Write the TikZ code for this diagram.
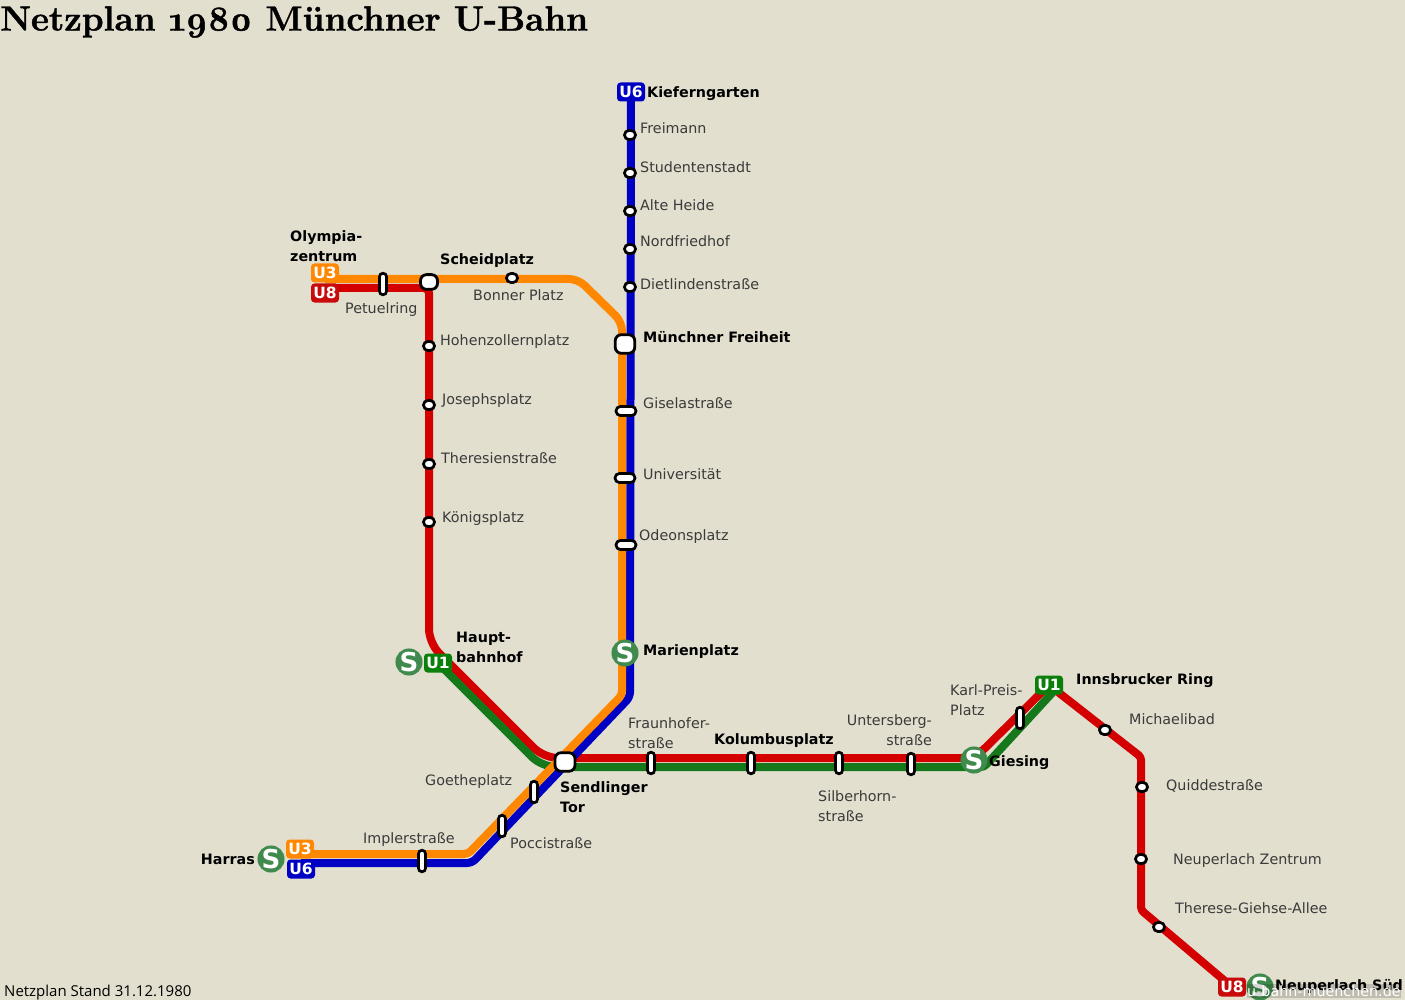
\documentclass[tikz,border=0pt]{standalone}
\usepackage{fontspec}
\setmainfont{DejaVu Sans}
\newfontfamily\titlefont[Numbers=OldStyle,BoldFeatures={FakeBold=1.2}]{Latin Modern Roman}
\newfontfamily\standfont{Open Sans}
\definecolor{bgc}{HTML}{E2DFCF}
\definecolor{lred}{HTML}{D40000}
\definecolor{bred}{HTML}{C80A0A}
\definecolor{lorange}{HTML}{FF8800}
\definecolor{lblue}{HTML}{0000C4}
\definecolor{lgreen}{HTML}{15781A}
\definecolor{bgreen}{HTML}{0A800A}
\definecolor{sgreen}{HTML}{3F8A4C}
\definecolor{lab}{HTML}{3A3A3A}
\pgfdeclarelayer{lines}
\pgfsetlayers{lines,main}
\tikzset{
  x=1pt,y=-1pt,
  wp/.style={inner sep=0pt,minimum size=0pt},
  track/.style={line width=8pt,rounded corners=5pt,line join=round},
  sta/.style={draw=black,fill=white,line width=2.7pt,rounded corners=4.4pt,inner sep=0pt,minimum width=11pt,minimum height=9pt},
  stal/.style={sta,minimum width=20pt,minimum height=9pt},
  stav/.style={sta,rounded corners=3.4pt,minimum width=7pt,minimum height=21.5pt},
  hub/.style={sta,line width=2.8pt,rounded corners=6pt},
  badge/.style={fill=#1,rounded corners=3.5pt,text=white,font=\fontsize{15.5}{16}\selectfont\bfseries,inner sep=0pt,minimum width=28pt,minimum height=19pt},
  sbahn/.style={circle,fill=sgreen,text=white,inner sep=0pt,minimum size=25pt,font=\fontsize{26}{26}\selectfont\bfseries},
  lbl/.style={anchor=west,inner sep=0pt,text=lab,align=left,font=\fontsize{14.3}{20}\selectfont},
  blbl/.style={anchor=west,inner sep=0pt,text=black,align=left,font=\fontsize{14.3}{20}\selectfont\bfseries},
  one/.style={text height=10pt,text depth=0pt},
}
\begin{document}
\begin{tikzpicture}
\useasboundingbox (0,0) rectangle (1405,1000);
% waypoints
\node[wp] (o1) at (578,279) {};
\node[wp] (o2) at (622,322) {};
\node[wp] (o3) at (622,695) {};
\node[wp] (o4) at (468,854) {};
\node[wp] (b1) at (630,697) {};
\node[wp] (b2) at (472,863) {};
\node[wp] (r0) at (325,288) {};
\node[wp] (r1) at (429,288) {};
\node[wp] (r2) at (429,643) {};
\node[wp] (r3) at (544,758) {};
\node[wp] (r4) at (975,758) {};
\node[wp] (r5) at (1141,757) {};
\node[wp] (r6) at (1141,910) {};
\node[wp] (g1) at (542,767) {};
\node[wp] (g2) at (984,767) {};
\node[wp] (g3) at (1053,692) {};
% badges
\node[badge=lorange] (u3a) at (325,273) {U3};
\node[badge=bred] (u8a) at (325,293) {U8};
\node[badge=lblue] (u6a) at (631,92) {U6};
\node[badge=bgreen] (u1a) at (438,663) {U1};
\node[badge=bgreen] (u1b) at (1049,685) {U1};
\node[badge=lorange] (u3b) at (300,849) {U3};
\node[badge=lblue] (u6b) at (301,869) {U6};
\node[badge=bred] (u8b) at (1232,987) {U8};
% stations
\node[sta] (freimann) at (630,135) {};
\node[sta] (studenten) at (630,173) {};
\node[sta] (alte) at (630,211) {};
\node[sta] (nordf) at (630,249) {};
\node[sta] (dietl) at (630,287) {};
\node[hub,minimum width=19.5pt,minimum height=18.5pt] (mf) at (625,344) {};
\node[stal] (gisela) at (626,411) {};
\node[stal] (uni) at (625,478) {};
\node[stal] (odeon) at (626,545) {};
\node[sbahn] (marien) at (625,653) {S};
\node[stav] (petuel) at (383,284) {};
\node[hub,minimum width=17pt,minimum height=14.7pt] (scheid) at (429,282) {};
\node[sta] (bonner) at (512,278) {};
\node[sta] (hohen) at (429,346) {};
\node[sta] (joseph) at (429,405) {};
\node[sta] (theres) at (429,464) {};
\node[sta] (koenig) at (429,522) {};
\node[sbahn] (hbf) at (409,662) {S};
\node[hub,minimum width=20pt,minimum height=18.5pt] (sendl) at (565,762) {};
\node[stav] (goethe) at (534,792) {};
\node[stav] (poccis) at (502,826) {};
\node[stav] (impler) at (422,861) {};
\node[sbahn] (harras) at (271,859) {S};
\node[stav] (fraunh) at (651,763) {};
\node[stav] (kolumb) at (751,763) {};
\node[stav] (silber) at (839,763) {};
\node[stav] (unters) at (911,764) {};
\node[sbahn] (giesing) at (974,760) {S};
\node[stav] (karl) at (1020,718) {};
\node[sta] (michael) at (1105,730) {};
\node[sta] (quidde) at (1142,787) {};
\node[sta] (neuz) at (1141,859) {};
\node[sta] (therese) at (1159,927) {};
\node[sbahn] (neus) at (1260,987) {S};
% tracks
\begin{pgfonlayer}{lines}
\fill[bgc] (0,0) rectangle (1405,1000);
\draw[track,lred] (r0.center) -- (r1.center) [rounded corners=14pt] -- (r2.center) -- (r3.center) -- (r4.center) [rounded corners=3pt] -- (u1b.center) -- (r5.center) -- (r6.center) -- (u8b.center);
\draw[track,lgreen,rounded corners=14pt] (u1a.center) -- (g1.center) [rounded corners=3pt] -- (g2.center) -- (g3.center);
\draw[track,lblue] (u6a.center) -- (b1.center) -- (b2.center) -- (u6b.center |- b2.center);
\draw[track,lorange] (u3a.center |- o1.center) [rounded corners=9pt] -- (o1.center) -- (o2.center) [rounded corners=4pt] -- (o3.center) -- (o4.center) -- (u3b.center |- o4.center);
\end{pgfonlayer}
% labels
\node[blbl,one] (lkief) at (647,93) {Kieferngarten};
\node[lbl,one] (lfrei) at (640,129) {Freimann};
\node[lbl,one] (lstud) at (640,168) {Studentenstadt};
\node[lbl,one] (lalte) at (640,206) {Alte Heide};
\node[lbl,one] (lnord) at (640,242) {Nordfriedhof};
\node[lbl,one] (ldiet) at (640,285) {Dietlindenstraße};
\node[blbl,one] (lmf) at (643,337) {Münchner Freiheit};
\node[lbl,one] (lgis) at (643,403) {Giselastraße};
\node[lbl,one] (luni) at (643,474) {Universität};
\node[lbl,one] (lode) at (639,535) {Odeonsplatz};
\node[blbl,one] (lmar) at (643,650) {Marienplatz};
\node[blbl] (loly) at (290,246) {Olympia-\\zentrum};
\node[blbl,one] (lsch) at (440,260) {Scheidplatz};
\node[lbl,one] (lbon) at (473,296) {Bonner Platz};
\node[lbl,one] (lpet) at (345,308) {Petuelring};
\node[lbl,one] (lhoh) at (440,340) {Hohenzollernplatz};
\node[lbl,one] (ljos) at (442,399) {Josephsplatz};
\node[lbl,one] (lthe) at (441,458) {Theresienstraße};
\node[lbl,one] (lkoe) at (442,517) {Königsplatz};
\node[blbl] (lhbf) at (456,647) {Haupt-\\bahnhof};
\node[blbl] (lsen) at (560,797) {Sendlinger\\Tor};
\node[lbl,one] (lgoe) at (425,780) {Goetheplatz};
\node[lbl,one] (lpoc) at (510,843) {Poccistraße};
\node[lbl,one] (limp) at (363,838) {Implerstraße};
\node[blbl,anchor=east,one] (lhar) at (255,859) {Harras};
\node[lbl] (lfra) at (628,733) {Fraunhofer-\\straße};
\node[blbl,one] (lkol) at (714,739) {Kolumbusplatz};
\node[lbl,align=right,anchor=east] (lunt) at (932,730) {Untersberg-\\straße};
\node[lbl] (lsil) at (818,806) {Silberhorn-\\straße};
\node[blbl,one] (lgie) at (989,761) {Giesing};
\node[lbl] (lkar) at (950,700) {Karl-Preis-\\Platz};
\node[blbl,one] (linn) at (1076,679) {Innsbrucker Ring};
\node[lbl,one] (lmic) at (1129,719) {Michaelibad};
\node[lbl,one] (lqui) at (1166,785) {Quiddestraße};
\node[lbl,one] (lneu) at (1173,859) {Neuperlach Zentrum};
\node[lbl,one] (lthr) at (1175,908) {Therese-Giehse-Allee};
\node[blbl,one] (lnsu) at (1275,985) {Neuperlach Süd};
\node[anchor=west,inner xsep=0pt,inner ysep=1pt,text=white,fill=black,fill opacity=.15,text opacity=1,font=\fontsize{14.3}{15}\selectfont] (wm) at (1247,991) {u-bahn-muenchen.de};
\node[anchor=west,inner sep=0pt,text=black,font=\titlefont\fontsize{35}{35}\selectfont\bfseries] (title) at (0,22) {Netzplan 1980 Münchner U-Bahn};
\node[anchor=west,inner sep=0pt,text=black,font=\standfont\fontsize{15}{16}\selectfont] (stand) at (4,993) {Netzplan Stand 31.12.1980};
\end{tikzpicture}
\end{document}
